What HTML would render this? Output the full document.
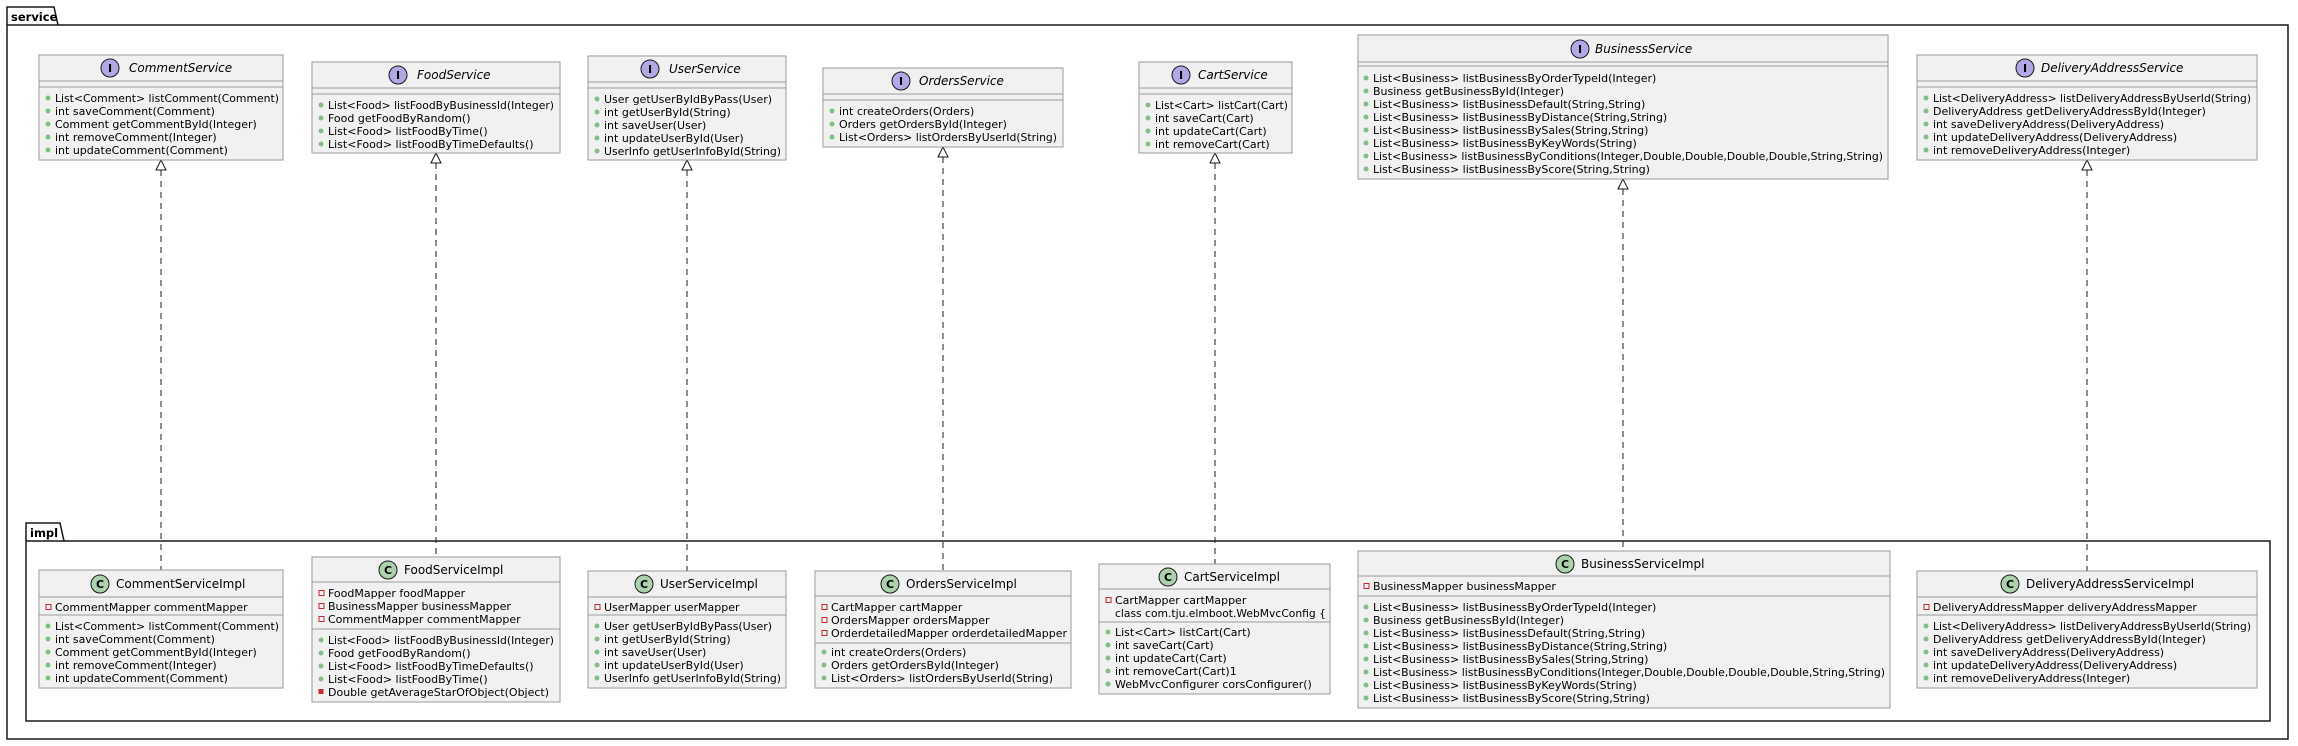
<!DOCTYPE html>
<html><head><meta charset="utf-8"><style>
html,body{margin:0;padding:0;background:#fff;}
svg{display:block;}
text{font-family:"DejaVu Sans","Liberation Sans",sans-serif;font-size:11px;fill:#000;}
.t{font-size:12px;}
.i{font-style:italic;}
.box{fill:#f1f1f1;stroke:#9a9a9a;stroke-width:1;}
.div{stroke:#9a9a9a;stroke-width:1;}
.pub{fill:#84be84;}
.prv{fill:none;stroke:#c82930;stroke-width:1;}
.prm{fill:#c82930;}
.ic{fill:#b4a7e5;stroke:#181818;stroke-width:1;}
.cc{fill:#add1ad;stroke:#181818;stroke-width:1;}
.lt{font-weight:bold;font-size:11.5px;}
.dash{stroke:#181818;stroke-width:1;stroke-dasharray:6,5;fill:none;}
.tri{fill:#fff;stroke:#181818;stroke-width:1;}
</style></head><body>
<svg width="2298" height="746" viewBox="0 0 2298 746" xmlns="http://www.w3.org/2000/svg">
<!-- service package -->
<path d="M7,25 L7,7 L54,7 L58,25" fill="none" stroke="#181818" stroke-width="1.5"/>
<rect x="7" y="25" width="2281" height="714" fill="none" stroke="#181818" stroke-width="1.5"/>
<text x="11" y="21" class="lt">service</text>
<!-- impl package -->
<path d="M26,541 L26,523 L60,523 L64,541" fill="none" stroke="#181818" stroke-width="1.5"/>
<rect x="26" y="541" width="2244" height="180" fill="none" stroke="#181818" stroke-width="1.5"/>
<text x="30" y="537" class="lt">impl</text>

<!-- connectors -->
<g>
<line class="dash" x1="161" y1="170" x2="161" y2="570"/><polygon class="tri" points="161,160 156,170 166,170"/>
<line class="dash" x1="436" y1="163" x2="436" y2="557"/><polygon class="tri" points="436,153 431,163 441,163"/>
<line class="dash" x1="687" y1="170" x2="687" y2="571"/><polygon class="tri" points="687,160 682,170 692,170"/>
<line class="dash" x1="943" y1="157" x2="943" y2="571"/><polygon class="tri" points="943,147 938,157 948,157"/>
<line class="dash" x1="1215" y1="163" x2="1215" y2="564"/><polygon class="tri" points="1215,153 1210,163 1220,163"/>
<line class="dash" x1="1623" y1="189" x2="1623" y2="551"/><polygon class="tri" points="1623,179 1618,189 1628,189"/>
<line class="dash" x1="2087" y1="170" x2="2087" y2="571"/><polygon class="tri" points="2087,160 2082,170 2092,170"/>
</g>

<!-- CommentService -->
<rect class="box" x="39" y="55" width="244" height="105"/>
<line class="div" x1="39" y1="81" x2="283" y2="81"/><line class="div" x1="39" y1="87" x2="283" y2="87"/>
<circle class="ic" cx="110" cy="68" r="9"/><text x="110" y="72" text-anchor="middle" style="font-weight:bold;font-size:11px">I</text>
<text class="t i" x="129" y="72">CommentService</text>
<circle class="pub" cx="48" cy="98" r="2.5"/><text x="55" y="102" textLength="224" lengthAdjust="spacingAndGlyphs">List&lt;Comment&gt; listComment(Comment)</text>
<circle class="pub" cx="48" cy="111" r="2.5"/><text x="55" y="115">int saveComment(Comment)</text>
<circle class="pub" cx="48" cy="124" r="2.5"/><text x="55" y="128">Comment getCommentById(Integer)</text>
<circle class="pub" cx="48" cy="137" r="2.5"/><text x="55" y="141">int removeComment(Integer)</text>
<circle class="pub" cx="48" cy="150" r="2.5"/><text x="55" y="154">int updateComment(Comment)</text>

<!-- FoodService -->
<rect class="box" x="312" y="62" width="248" height="91"/>
<line class="div" x1="312" y1="88" x2="560" y2="88"/><line class="div" x1="312" y1="94" x2="560" y2="94"/>
<circle class="ic" cx="398" cy="75" r="9"/><text x="398" y="79" text-anchor="middle" style="font-weight:bold;font-size:11px">I</text>
<text class="t i" x="417" y="79">FoodService</text>
<circle class="pub" cx="321" cy="105" r="2.5"/><text x="328" y="109" textLength="226" lengthAdjust="spacingAndGlyphs">List&lt;Food&gt; listFoodByBusinessId(Integer)</text>
<circle class="pub" cx="321" cy="118" r="2.5"/><text x="328" y="122">Food getFoodByRandom()</text>
<circle class="pub" cx="321" cy="131" r="2.5"/><text x="328" y="135">List&lt;Food&gt; listFoodByTime()</text>
<circle class="pub" cx="321" cy="144" r="2.5"/><text x="328" y="148">List&lt;Food&gt; listFoodByTimeDefaults()</text>

<!-- UserService -->
<rect class="box" x="588" y="56" width="198" height="104"/>
<line class="div" x1="588" y1="82" x2="786" y2="82"/><line class="div" x1="588" y1="88" x2="786" y2="88"/>
<circle class="ic" cx="650" cy="69" r="9"/><text x="650" y="73" text-anchor="middle" style="font-weight:bold;font-size:11px">I</text>
<text class="t i" x="669" y="73">UserService</text>
<circle class="pub" cx="597" cy="99" r="2.5"/><text x="604" y="103">User getUserByIdByPass(User)</text>
<circle class="pub" cx="597" cy="112" r="2.5"/><text x="604" y="116">int getUserById(String)</text>
<circle class="pub" cx="597" cy="125" r="2.5"/><text x="604" y="129">int saveUser(User)</text>
<circle class="pub" cx="597" cy="138" r="2.5"/><text x="604" y="142">int updateUserById(User)</text>
<circle class="pub" cx="597" cy="151" r="2.5"/><text x="604" y="155" textLength="177" lengthAdjust="spacingAndGlyphs">UserInfo getUserInfoById(String)</text>

<!-- OrdersService -->
<rect class="box" x="823" y="68" width="240" height="79"/>
<line class="div" x1="823" y1="94" x2="1063" y2="94"/><line class="div" x1="823" y1="100" x2="1063" y2="100"/>
<circle class="ic" cx="901" cy="81" r="9"/><text x="901" y="85" text-anchor="middle" style="font-weight:bold;font-size:11px">I</text>
<text class="t i" x="919" y="85">OrdersService</text>
<circle class="pub" cx="832" cy="111" r="2.5"/><text x="839" y="115">int createOrders(Orders)</text>
<circle class="pub" cx="832" cy="124" r="2.5"/><text x="839" y="128">Orders getOrdersById(Integer)</text>
<circle class="pub" cx="832" cy="137" r="2.5"/><text x="839" y="141" textLength="218" lengthAdjust="spacingAndGlyphs">List&lt;Orders&gt; listOrdersByUserId(String)</text>

<!-- CartService -->
<rect class="box" x="1139" y="62" width="153" height="91"/>
<line class="div" x1="1139" y1="88" x2="1292" y2="88"/><line class="div" x1="1139" y1="94" x2="1292" y2="94"/>
<circle class="ic" cx="1181" cy="75" r="9"/><text x="1181" y="79" text-anchor="middle" style="font-weight:bold;font-size:11px">I</text>
<text class="t i" x="1198" y="79">CartService</text>
<circle class="pub" cx="1148" cy="105" r="2.5"/><text x="1155" y="109" textLength="133" lengthAdjust="spacingAndGlyphs">List&lt;Cart&gt; listCart(Cart)</text>
<circle class="pub" cx="1148" cy="118" r="2.5"/><text x="1155" y="122">int saveCart(Cart)</text>
<circle class="pub" cx="1148" cy="131" r="2.5"/><text x="1155" y="135">int updateCart(Cart)</text>
<circle class="pub" cx="1148" cy="144" r="2.5"/><text x="1155" y="148">int removeCart(Cart)</text>

<!-- BusinessService -->
<rect class="box" x="1358" y="35" width="530" height="144"/>
<line class="div" x1="1358" y1="62" x2="1888" y2="62"/><line class="div" x1="1358" y1="66" x2="1888" y2="66"/>
<circle class="ic" cx="1580" cy="49" r="9"/><text x="1580" y="53" text-anchor="middle" style="font-weight:bold;font-size:11px">I</text>
<text class="t i" x="1595" y="53">BusinessService</text>
<circle class="pub" cx="1366" cy="78" r="2.5"/><text x="1373" y="82">List&lt;Business&gt; listBusinessByOrderTypeId(Integer)</text>
<circle class="pub" cx="1366" cy="91" r="2.5"/><text x="1373" y="95">Business getBusinessById(Integer)</text>
<circle class="pub" cx="1366" cy="104" r="2.5"/><text x="1373" y="108">List&lt;Business&gt; listBusinessDefault(String,String)</text>
<circle class="pub" cx="1366" cy="117" r="2.5"/><text x="1373" y="121">List&lt;Business&gt; listBusinessByDistance(String,String)</text>
<circle class="pub" cx="1366" cy="130" r="2.5"/><text x="1373" y="134">List&lt;Business&gt; listBusinessBySales(String,String)</text>
<circle class="pub" cx="1366" cy="143" r="2.5"/><text x="1373" y="147">List&lt;Business&gt; listBusinessByKeyWords(String)</text>
<circle class="pub" cx="1366" cy="156" r="2.5"/><text x="1373" y="160" textLength="510" lengthAdjust="spacingAndGlyphs">List&lt;Business&gt; listBusinessByConditions(Integer,Double,Double,Double,Double,String,String)</text>
<circle class="pub" cx="1366" cy="169" r="2.5"/><text x="1373" y="173">List&lt;Business&gt; listBusinessByScore(String,String)</text>

<!-- DeliveryAddressService -->
<rect class="box" x="1917" y="55" width="340" height="105"/>
<line class="div" x1="1917" y1="81" x2="2257" y2="81"/><line class="div" x1="1917" y1="87" x2="2257" y2="87"/>
<circle class="ic" cx="2025" cy="68" r="9"/><text x="2025" y="72" text-anchor="middle" style="font-weight:bold;font-size:11px">I</text>
<text class="t i" x="2041" y="72">DeliveryAddressService</text>
<circle class="pub" cx="1926" cy="98" r="2.5"/><text x="1933" y="102" textLength="318" lengthAdjust="spacingAndGlyphs">List&lt;DeliveryAddress&gt; listDeliveryAddressByUserId(String)</text>
<circle class="pub" cx="1926" cy="111" r="2.5"/><text x="1933" y="115">DeliveryAddress getDeliveryAddressById(Integer)</text>
<circle class="pub" cx="1926" cy="124" r="2.5"/><text x="1933" y="128">int saveDeliveryAddress(DeliveryAddress)</text>
<circle class="pub" cx="1926" cy="137" r="2.5"/><text x="1933" y="141">int updateDeliveryAddress(DeliveryAddress)</text>
<circle class="pub" cx="1926" cy="150" r="2.5"/><text x="1933" y="154">int removeDeliveryAddress(Integer)</text>

<!-- CommentServiceImpl -->
<rect class="box" x="39" y="570" width="244" height="118"/>
<line class="div" x1="39" y1="597" x2="283" y2="597"/><line class="div" x1="39" y1="615" x2="283" y2="615"/>
<circle class="cc" cx="100" cy="584" r="9"/><text x="100" y="588" text-anchor="middle" style="font-weight:bold;font-size:11px">C</text>
<text class="t" x="116" y="588">CommentServiceImpl</text>
<rect class="prv" x="46" y="604.5" width="5" height="5"/><text x="55" y="611">CommentMapper commentMapper</text>
<circle class="pub" cx="48" cy="626" r="2.5"/><text x="55" y="630" textLength="224" lengthAdjust="spacingAndGlyphs">List&lt;Comment&gt; listComment(Comment)</text>
<circle class="pub" cx="48" cy="639" r="2.5"/><text x="55" y="643">int saveComment(Comment)</text>
<circle class="pub" cx="48" cy="652" r="2.5"/><text x="55" y="656">Comment getCommentById(Integer)</text>
<circle class="pub" cx="48" cy="665" r="2.5"/><text x="55" y="669">int removeComment(Integer)</text>
<circle class="pub" cx="48" cy="678" r="2.5"/><text x="55" y="682">int updateComment(Comment)</text>

<!-- FoodServiceImpl -->
<rect class="box" x="312" y="557" width="248" height="145"/>
<line class="div" x1="312" y1="582" x2="560" y2="582"/><line class="div" x1="312" y1="629" x2="560" y2="629"/>
<circle class="cc" cx="388" cy="570" r="9"/><text x="388" y="574" text-anchor="middle" style="font-weight:bold;font-size:11px">C</text>
<text class="t" x="404" y="574">FoodServiceImpl</text>
<rect class="prv" x="319" y="590.5" width="5" height="5"/><text x="328" y="597">FoodMapper foodMapper</text>
<rect class="prv" x="319" y="603.5" width="5" height="5"/><text x="328" y="610">BusinessMapper businessMapper</text>
<rect class="prv" x="319" y="616.5" width="5" height="5"/><text x="328" y="623">CommentMapper commentMapper</text>
<circle class="pub" cx="321" cy="640" r="2.5"/><text x="328" y="644" textLength="226" lengthAdjust="spacingAndGlyphs">List&lt;Food&gt; listFoodByBusinessId(Integer)</text>
<circle class="pub" cx="321" cy="653" r="2.5"/><text x="328" y="657">Food getFoodByRandom()</text>
<circle class="pub" cx="321" cy="666" r="2.5"/><text x="328" y="670">List&lt;Food&gt; listFoodByTimeDefaults()</text>
<circle class="pub" cx="321" cy="679" r="2.5"/><text x="328" y="683">List&lt;Food&gt; listFoodByTime()</text>
<rect class="prm" x="318.5" y="689" width="5" height="5"/><text x="328" y="696">Double getAverageStarOfObject(Object)</text>

<!-- UserServiceImpl -->
<rect class="box" x="588" y="571" width="198" height="117"/>
<line class="div" x1="588" y1="597" x2="786" y2="597"/><line class="div" x1="588" y1="615" x2="786" y2="615"/>
<circle class="cc" cx="644" cy="584" r="9"/><text x="644" y="588" text-anchor="middle" style="font-weight:bold;font-size:11px">C</text>
<text class="t" x="660" y="588">UserServiceImpl</text>
<rect class="prv" x="595" y="604.5" width="5" height="5"/><text x="604" y="611">UserMapper userMapper</text>
<circle class="pub" cx="597" cy="626" r="2.5"/><text x="604" y="630">User getUserByIdByPass(User)</text>
<circle class="pub" cx="597" cy="639" r="2.5"/><text x="604" y="643">int getUserById(String)</text>
<circle class="pub" cx="597" cy="652" r="2.5"/><text x="604" y="656">int saveUser(User)</text>
<circle class="pub" cx="597" cy="665" r="2.5"/><text x="604" y="669">int updateUserById(User)</text>
<circle class="pub" cx="597" cy="678" r="2.5"/><text x="604" y="682" textLength="177" lengthAdjust="spacingAndGlyphs">UserInfo getUserInfoById(String)</text>

<!-- OrdersServiceImpl -->
<rect class="box" x="815" y="571" width="256" height="117"/>
<line class="div" x1="815" y1="596" x2="1071" y2="596"/><line class="div" x1="815" y1="643" x2="1071" y2="643"/>
<circle class="cc" cx="890" cy="584" r="9"/><text x="890" y="588" text-anchor="middle" style="font-weight:bold;font-size:11px">C</text>
<text class="t" x="906" y="588">OrdersServiceImpl</text>
<rect class="prv" x="822" y="604.5" width="5" height="5"/><text x="831" y="611">CartMapper cartMapper</text>
<rect class="prv" x="822" y="617.5" width="5" height="5"/><text x="831" y="624">OrdersMapper ordersMapper</text>
<rect class="prv" x="822" y="630.5" width="5" height="5"/><text x="831" y="637" textLength="236" lengthAdjust="spacingAndGlyphs">OrderdetailedMapper orderdetailedMapper</text>
<circle class="pub" cx="824" cy="652" r="2.5"/><text x="831" y="656">int createOrders(Orders)</text>
<circle class="pub" cx="824" cy="665" r="2.5"/><text x="831" y="669">Orders getOrdersById(Integer)</text>
<circle class="pub" cx="824" cy="678" r="2.5"/><text x="831" y="682">List&lt;Orders&gt; listOrdersByUserId(String)</text>

<!-- CartServiceImpl -->
<rect class="box" x="1099" y="564" width="231" height="130"/>
<line class="div" x1="1099" y1="589" x2="1330" y2="589"/><line class="div" x1="1099" y1="622" x2="1330" y2="622"/>
<circle class="cc" cx="1168" cy="577" r="9"/><text x="1168" y="581" text-anchor="middle" style="font-weight:bold;font-size:11px">C</text>
<text class="t" x="1184" y="581">CartServiceImpl</text>
<rect class="prv" x="1106" y="597.5" width="5" height="5"/><text x="1115" y="604">CartMapper cartMapper</text>
<text x="1115" y="617" textLength="211" lengthAdjust="spacingAndGlyphs">class com.tju.elmboot.WebMvcConfig {</text>
<circle class="pub" cx="1108" cy="632" r="2.5"/><text x="1115" y="636">List&lt;Cart&gt; listCart(Cart)</text>
<circle class="pub" cx="1108" cy="645" r="2.5"/><text x="1115" y="649">int saveCart(Cart)</text>
<circle class="pub" cx="1108" cy="658" r="2.5"/><text x="1115" y="662">int updateCart(Cart)</text>
<circle class="pub" cx="1108" cy="671" r="2.5"/><text x="1115" y="675">int removeCart(Cart)1</text>
<circle class="pub" cx="1108" cy="684" r="2.5"/><text x="1115" y="688">WebMvcConfigurer corsConfigurer()</text>

<!-- BusinessServiceImpl -->
<rect class="box" x="1358" y="551" width="532" height="157"/>
<line class="div" x1="1358" y1="576" x2="1890" y2="576"/><line class="div" x1="1358" y1="596" x2="1890" y2="596"/>
<circle class="cc" cx="1565" cy="564" r="9"/><text x="1565" y="568" text-anchor="middle" style="font-weight:bold;font-size:11px">C</text>
<text class="t" x="1581" y="568">BusinessServiceImpl</text>
<rect class="prv" x="1364" y="583.5" width="5" height="5"/><text x="1373" y="590">BusinessMapper businessMapper</text>
<circle class="pub" cx="1366" cy="607" r="2.5"/><text x="1373" y="611">List&lt;Business&gt; listBusinessByOrderTypeId(Integer)</text>
<circle class="pub" cx="1366" cy="620" r="2.5"/><text x="1373" y="624">Business getBusinessById(Integer)</text>
<circle class="pub" cx="1366" cy="633" r="2.5"/><text x="1373" y="637">List&lt;Business&gt; listBusinessDefault(String,String)</text>
<circle class="pub" cx="1366" cy="646" r="2.5"/><text x="1373" y="650">List&lt;Business&gt; listBusinessByDistance(String,String)</text>
<circle class="pub" cx="1366" cy="659" r="2.5"/><text x="1373" y="663">List&lt;Business&gt; listBusinessBySales(String,String)</text>
<circle class="pub" cx="1366" cy="672" r="2.5"/><text x="1373" y="676" textLength="512" lengthAdjust="spacingAndGlyphs">List&lt;Business&gt; listBusinessByConditions(Integer,Double,Double,Double,Double,String,String)</text>
<circle class="pub" cx="1366" cy="685" r="2.5"/><text x="1373" y="689">List&lt;Business&gt; listBusinessByKeyWords(String)</text>
<circle class="pub" cx="1366" cy="698" r="2.5"/><text x="1373" y="702">List&lt;Business&gt; listBusinessByScore(String,String)</text>

<!-- DeliveryAddressServiceImpl -->
<rect class="box" x="1917" y="571" width="340" height="117"/>
<line class="div" x1="1917" y1="597" x2="2257" y2="597"/><line class="div" x1="1917" y1="615" x2="2257" y2="615"/>
<circle class="cc" cx="2010" cy="584" r="9"/><text x="2010" y="588" text-anchor="middle" style="font-weight:bold;font-size:11px">C</text>
<text class="t" x="2026" y="588">DeliveryAddressServiceImpl</text>
<rect class="prv" x="1924" y="604.5" width="5" height="5"/><text x="1933" y="611">DeliveryAddressMapper deliveryAddressMapper</text>
<circle class="pub" cx="1926" cy="626" r="2.5"/><text x="1933" y="630" textLength="318" lengthAdjust="spacingAndGlyphs">List&lt;DeliveryAddress&gt; listDeliveryAddressByUserId(String)</text>
<circle class="pub" cx="1926" cy="639" r="2.5"/><text x="1933" y="643">DeliveryAddress getDeliveryAddressById(Integer)</text>
<circle class="pub" cx="1926" cy="652" r="2.5"/><text x="1933" y="656">int saveDeliveryAddress(DeliveryAddress)</text>
<circle class="pub" cx="1926" cy="665" r="2.5"/><text x="1933" y="669">int updateDeliveryAddress(DeliveryAddress)</text>
<circle class="pub" cx="1926" cy="678" r="2.5"/><text x="1933" y="682">int removeDeliveryAddress(Integer)</text>
</svg>
</body></html>
